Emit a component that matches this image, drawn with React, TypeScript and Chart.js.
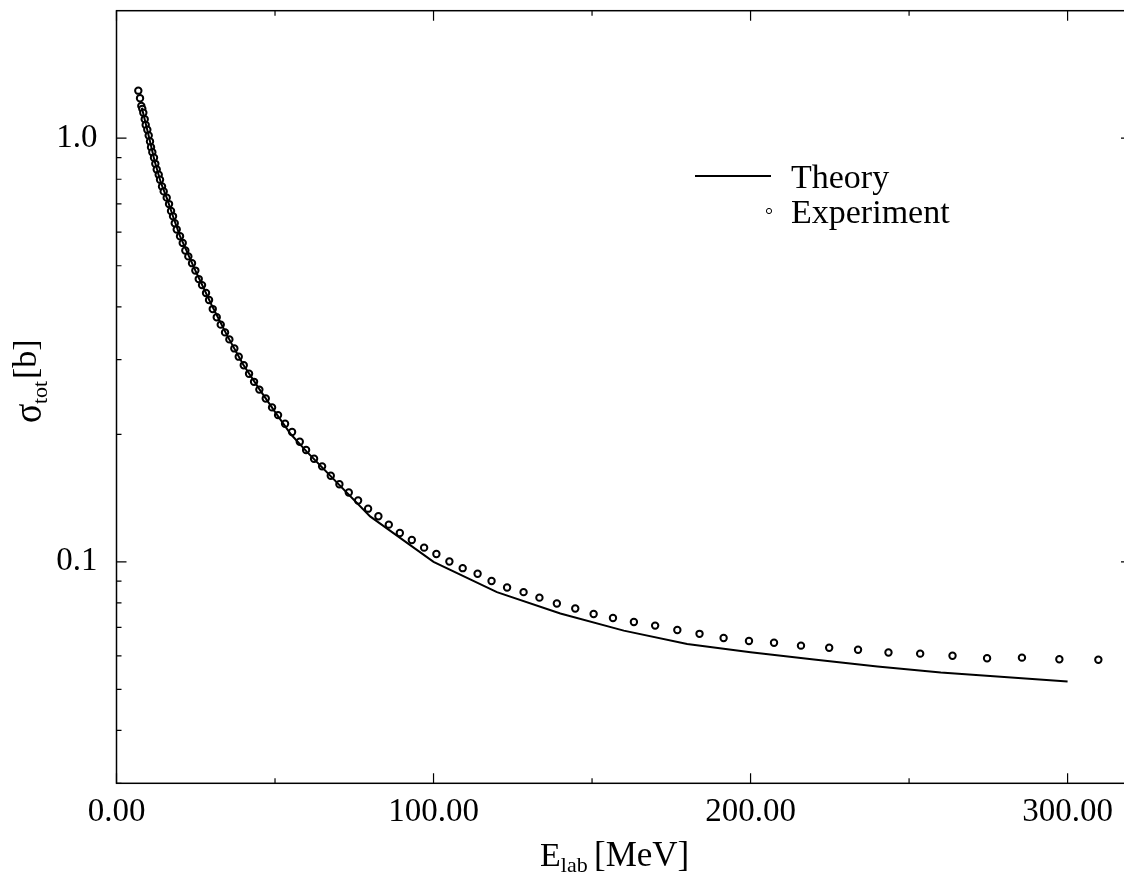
import React, { useEffect, useRef } from "react";
import { Chart, registerables } from "chart.js";

Chart.register(...registerables);

// ---- data ----
const expEnergy = [
  6.88, 7.42, 7.83, 8.14, 8.46, 8.9, 9.21, 9.72, 10.16, 10.57,
  10.89, 11.3, 11.83, 12.24, 12.69, 13.32, 13.73, 14.36, 14.89, 15.84,
  16.57, 17.2, 17.83, 18.37, 19.0, 20.04, 20.89, 21.71, 22.66, 23.82,
  24.87, 25.94, 26.98, 28.24, 29.19, 30.36, 31.62, 32.88, 34.24, 35.6,
  37.17, 38.56, 40.14, 41.81, 43.39, 45.06, 47.08, 49.07, 50.96, 53.17,
  55.38, 57.81, 59.8, 62.32, 64.85, 67.59, 70.31, 73.27, 76.21, 79.36,
  82.61, 85.89, 89.37, 93.15, 97.03, 100.9, 105.0, 109.2, 113.9, 118.3,
  123.2, 128.4, 133.4, 138.9, 144.7, 150.5, 156.6, 163.2, 169.9, 176.9,
  183.9, 191.5, 199.5, 207.4, 215.9, 224.8, 233.9, 243.5, 253.5, 263.7,
  274.6, 285.6, 297.4, 309.7,
];
const expSigma = [
  1.295, 1.243, 1.192, 1.173, 1.148, 1.109, 1.075, 1.047, 1.015, 0.982,
  0.952, 0.927, 0.899, 0.87, 0.844, 0.82, 0.798, 0.769, 0.749, 0.724,
  0.699, 0.673, 0.654, 0.63, 0.609, 0.587, 0.566, 0.543, 0.526, 0.507,
  0.487, 0.465, 0.45, 0.431, 0.415, 0.395, 0.378, 0.363, 0.348, 0.335,
  0.319, 0.305, 0.291, 0.278, 0.266, 0.255, 0.243, 0.2315, 0.222, 0.2118,
  0.2025, 0.1921, 0.1836, 0.1751, 0.168, 0.1597, 0.1524, 0.1457, 0.1395, 0.1335,
  0.1281, 0.1224, 0.117, 0.1126, 0.108, 0.1043, 0.1002, 0.0966, 0.0937, 0.0901,
  0.087, 0.0848, 0.0823, 0.0797, 0.0776, 0.0753, 0.0737, 0.0721, 0.0707, 0.069,
  0.0676, 0.0661, 0.065, 0.0644, 0.0634, 0.0627, 0.062, 0.0611, 0.0607, 0.06,
  0.0592, 0.0594, 0.0589, 0.0587,
];
const theoryEnergy = [
  8, 10, 12, 14, 16, 18, 20, 25, 30, 35, 40, 45, 50, 55, 60,
  80, 100, 120, 140, 160, 180, 200, 220, 240, 260, 280, 300,
];
const theorySigma = [
  1.18, 1.025, 0.885, 0.785, 0.718, 0.648, 0.588, 0.485, 0.404, 0.341, 0.292, 0.256, 0.226, 0.2, 0.182,
  0.128, 0.1, 0.0848, 0.0755, 0.0688, 0.064, 0.0612, 0.0588, 0.0566, 0.0548, 0.0535, 0.0522,
];
const xMajorTicks = [0, 100, 200, 300];
const xMinorTicks = [50, 150, 250];
const yMajorTicks = [0.1, 1.0];
const yMinorTicks = [0.03, 0.04, 0.05, 0.06, 0.07, 0.08, 0.09, 0.2, 0.3, 0.4, 0.5, 0.6, 0.7, 0.8, 0.9];
const seriesLabels = ["Theory", "Experiment"];

const FONT = "'Liberation Serif', 'Times New Roman', Times, serif";

const framePlugin = {
  id: "frameTicks",
  afterDraw(chart: any) {
    const { ctx, chartArea: a, scales } = chart;
    const xs = scales.x;
    const ys = scales.y;
    ctx.save();
    ctx.strokeStyle = "#000";
    ctx.lineWidth = 1.5;
    ctx.strokeRect(a.left, a.top, a.right - a.left, a.bottom - a.top);
    ctx.lineWidth = 1.2;
    const xt = (v: number, len: number) => {
      const p = xs.getPixelForValue(v);
      ctx.beginPath();
      ctx.moveTo(p, a.bottom);
      ctx.lineTo(p, a.bottom - len);
      ctx.moveTo(p, a.top);
      ctx.lineTo(p, a.top + len);
      ctx.stroke();
    };
    const yt = (v: number, len: number) => {
      const p = ys.getPixelForValue(v);
      ctx.beginPath();
      ctx.moveTo(a.left, p);
      ctx.lineTo(a.left + len, p);
      ctx.moveTo(a.right, p);
      ctx.lineTo(a.right - len, p);
      ctx.stroke();
    };
    xMajorTicks.forEach((v) => xt(v, 10));
    xMinorTicks.forEach((v) => xt(v, 5));
    yMajorTicks.forEach((v) => yt(v, 10));
    yMinorTicks.forEach((v) => yt(v, 5));

    // axis titles
    ctx.fillStyle = "#000";
    ctx.textBaseline = "alphabetic";
    ctx.textAlign = "left";
    const big = `34px ${FONT}`;
    const small = `22px ${FONT}`;
    // x title: E_lab [MeV]
    const by = 866;
    ctx.font = big;
    const wE = ctx.measureText("E").width;
    ctx.fillText("E", 540, by);
    ctx.font = small;
    ctx.fillText("lab", 540 + wE, by + 6);
    ctx.font = `35px ${FONT}`;
    ctx.fillText("[MeV]", 594, by);

    // y title: σ_tot [b] rotated (text runs bottom to top)
    ctx.save();
    ctx.rotate(-Math.PI / 2);
    ctx.save();
    ctx.translate(-423, 41);
    ctx.scale(0.85, 1);
    ctx.font = `42px ${FONT}`;
    ctx.fillText("σ", 0, 0);
    ctx.restore();
    ctx.font = small;
    ctx.fillText("tot", -404, 47);
    ctx.font = big;
    ctx.fillText("[b]", -379, 36);
    ctx.restore();

    // legend
    const ds0 = chart.data.datasets[0];
    const ds1 = chart.data.datasets[1];
    ctx.strokeStyle = ds0.borderColor;
    ctx.lineWidth = ds0.borderWidth;
    ctx.beginPath();
    ctx.moveTo(695, 176);
    ctx.lineTo(771, 176);
    ctx.stroke();
    ctx.beginPath();
    ctx.lineWidth = 1;
    ctx.strokeStyle = ds1.borderColor;
    ctx.fillStyle = "#fff";
    ctx.arc(769, 211, 2.6, 0, Math.PI * 2);
    ctx.fill();
    ctx.stroke();
    ctx.fillStyle = "#000";
    ctx.font = big;
    ctx.textAlign = "left";
    ctx.fillText(ds0.label, 791, 188);
    ctx.fillText(ds1.label, 791, 223);
    ctx.restore();
  },
};

export default function App() {
  const ref = useRef<HTMLCanvasElement | null>(null);
  useEffect(() => {
    if (!ref.current) return;
    const chart = new Chart(ref.current, {
      type: "scatter",
      data: {
        datasets: [
          {
            label: seriesLabels[0],
            data: theoryEnergy.map((e, i) => ({ x: e, y: theorySigma[i] })),
            showLine: true,
            borderColor: "#000",
            borderWidth: 2,
            pointRadius: 0,
            fill: false,
            tension: 0,
          },
          {
            label: seriesLabels[1],
            data: expEnergy.map((e, i) => ({ x: e, y: expSigma[i] })),
            showLine: false,
            borderColor: "#000",
            backgroundColor: "#ffffff",
            borderWidth: 2,
            pointRadius: 3.2,
            pointStyle: "circle",
          },
        ],
      } as any,
      options: {
        animation: false,
        responsive: false,
        devicePixelRatio: 1,
        layout: { padding: { left: 0, top: 10.7, right: 9, bottom: 0 } },
        plugins: { legend: { display: false }, tooltip: { enabled: false } },
        scales: {
          x: {
            type: "linear",
            position: "bottom",
            min: 0,
            max: 320,
            grid: { display: false, drawTicks: false },
            border: { display: false },
            afterBuildTicks: (s: any) => {
              s.ticks = xMajorTicks.map((v) => ({ value: v }));
            },
            afterFit: (s: any) => {
              s.height = 106.7;
              s.paddingLeft = 0;
              s.paddingRight = 0;
            },
            ticks: {
              autoSkip: false,
              maxRotation: 0,
              padding: 9,
              color: "#000",
              font: { family: FONT, size: 33 },
              callback: (v: any) => Number(v).toFixed(2),
            },
          },
          y: {
            type: "logarithmic",
            position: "left",
            min: 0.03,
            max: 2,
            grid: { display: false, drawTicks: false },
            border: { display: false },
            afterBuildTicks: (s: any) => {
              s.ticks = yMajorTicks.map((v) => ({ value: v }));
            },
            afterFit: (s: any) => {
              s.width = 116.5;
              s.paddingTop = 0;
              s.paddingBottom = 0;
            },
            ticks: {
              autoSkip: false,
              padding: 19,
              color: "#000",
              font: { family: FONT, size: 33 },
              callback: (v: any) => Number(v).toFixed(1),
            },
          },
        },
      } as any,
      plugins: [framePlugin],
    });
    return () => chart.destroy();
  }, []);
  return (
    <div
      style={{
        position: "absolute",
        left: 0,
        top: 0,
        width: 1124,
        height: 890,
        overflow: "hidden",
        background: "#fff",
      }}
    >
      <canvas ref={ref} width={1140} height={890} style={{ width: 1140, height: 890, display: "block" }} />
    </div>
  );
}
